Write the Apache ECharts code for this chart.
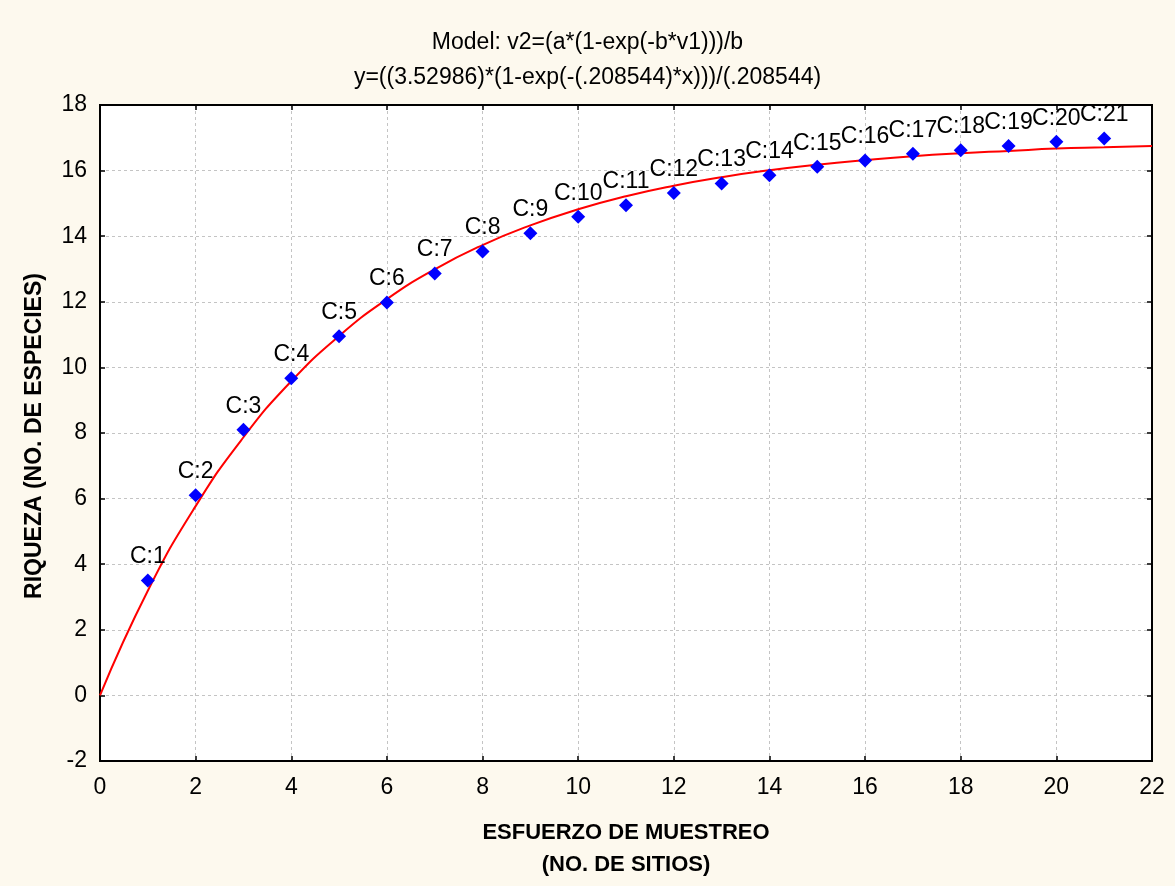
<!DOCTYPE html>
<html>
<head>
<meta charset="utf-8">
<script src="https://cdn.jsdelivr.net/npm/echarts@6/dist/echarts.min.js"></script>
<style>
html,body{margin:0;padding:0;background:#fdf9ee;}
#chart{width:1175px;height:886px;}
</style>
</head>
<body>
<div id="chart"></div>
<script>
// ---- data ----
const titleLines = ['Model: v2=(a*(1-exp(-b*v1)))/b', 'y=((3.52986)*(1-exp(-(.208544)*x)))/(.208544)'];
const xTitleLines = ['ESFUERZO DE MUESTREO', '(NO. DE SITIOS)'];
const yTitle = 'RIQUEZA (NO. DE ESPECIES)';

const pointNames = ['C:1','C:2','C:3','C:4','C:5','C:6','C:7','C:8','C:9','C:10','C:11','C:12','C:13','C:14','C:15','C:16','C:17','C:18','C:19','C:20','C:21'];
const sampleX = [1,2,3,4,5,6,7,8,9,10,11,12,13,14,15,16,17,18,19,20,21];
const richness = [3.5,6.1,8.1,9.67,10.95,11.98,12.86,13.53,14.09,14.59,14.94,15.32,15.61,15.86,16.12,16.31,16.51,16.62,16.75,16.88,16.98];

// fitted curve
const curveX = [0,1,2,3,4,5,6,7,8,9,10,11,12,13,14,15,16,17,18,19,20,21,22];
const curveY = [0,3.19,5.77,7.87,9.58,10.96,12.08,12.99,13.73,14.33,14.82,15.22,15.54,15.80,16.01,16.18,16.32,16.44,16.53,16.60,16.67,16.71,16.75];

const xTicks = {min:0, max:22, interval:2};
const yTicks = {min:-2, max:18, interval:2};

// ---- chart ----
const FONT = '"Liberation Sans", Arial, sans-serif';
const chart = echarts.init(document.getElementById('chart'), null, {renderer:'canvas'});

const scatterData = sampleX.map((x,i)=>({value:[x, richness[i]], name: pointNames[i]}));
const curveData = curveX.map((x,i)=>[x, curveY[i]]);

const tickStyle = {show:true, inside:true, length:5, lineStyle:{color:'#000', width:1.5}};
const splitStyle = {show:true, lineStyle:{color:'#c4c4c4', type:[3,3], width:1}};

chart.setOption({
  animation:false,
  backgroundColor:'#fdf9ee',
  title:{
    text: titleLines.join('\n'),
    left:'center', top:20,
    textStyle:{fontFamily:FONT, fontSize:23, fontWeight:'normal', color:'#000', lineHeight:35}
  },
  grid:{left:100, right:23, top:105, bottom:125, show:true, backgroundColor:'#ffffff', borderColor:'#000', borderWidth:2},
  xAxis:[{
    type:'value', min:xTicks.min, max:xTicks.max, interval:xTicks.interval,
    axisLine:{show:true, onZero:false, lineStyle:{color:'#000', width:2}},
    axisTick:tickStyle,
    axisLabel:{fontFamily:FONT, fontSize:23, color:'#000', margin:15},
    splitLine:splitStyle
  },{
    type:'value', position:'top', min:xTicks.min, max:xTicks.max, interval:xTicks.interval,
    axisLine:{show:true, onZero:false, lineStyle:{color:'#000', width:2}},
    axisTick:tickStyle, axisLabel:{show:false}, splitLine:{show:false}
  }],
  yAxis:[{
    type:'value', min:yTicks.min, max:yTicks.max, interval:yTicks.interval,
    axisLine:{show:true, onZero:false, lineStyle:{color:'#000', width:2}},
    axisTick:tickStyle,
    axisLabel:{fontFamily:FONT, fontSize:23, color:'#000', margin:13},
    splitLine:splitStyle
  },{
    type:'value', position:'right', min:yTicks.min, max:yTicks.max, interval:yTicks.interval,
    axisLine:{show:true, onZero:false, lineStyle:{color:'#000', width:2}},
    axisTick:tickStyle, axisLabel:{show:false}, splitLine:{show:false}
  }],
  graphic:[
    {type:'text', x:626, y:833, style:{text:xTitleLines[0], textAlign:'center', textVerticalAlign:'middle', font:'bold 22px ' + FONT, fill:'#000'}},
    {type:'text', x:626, y:865, style:{text:xTitleLines[1], textAlign:'center', textVerticalAlign:'middle', font:'bold 22px ' + FONT, fill:'#000'}},
    {type:'text', x:35, y:436, rotation:Math.PI/2, style:{text:yTitle, textAlign:'center', textVerticalAlign:'middle', font:'bold 23px ' + FONT, fill:'#000'}}
  ],
  series:[{
    type:'line', data:curveData, smooth:true, showSymbol:false, symbol:'none',
    lineStyle:{color:'#ff0000', width:2}, z:2, clip:true
  },{
    type:'scatter', data:scatterData, symbol:'diamond', symbolSize:[14,14],
    itemStyle:{color:'#0000ff', opacity:1}, z:3,
    label:{show:true, position:'top', distance:5, formatter:p=>p.name, fontFamily:FONT, fontSize:23, color:'#000', textBorderWidth:0}
  }]
});
</script>
</body>
</html>
